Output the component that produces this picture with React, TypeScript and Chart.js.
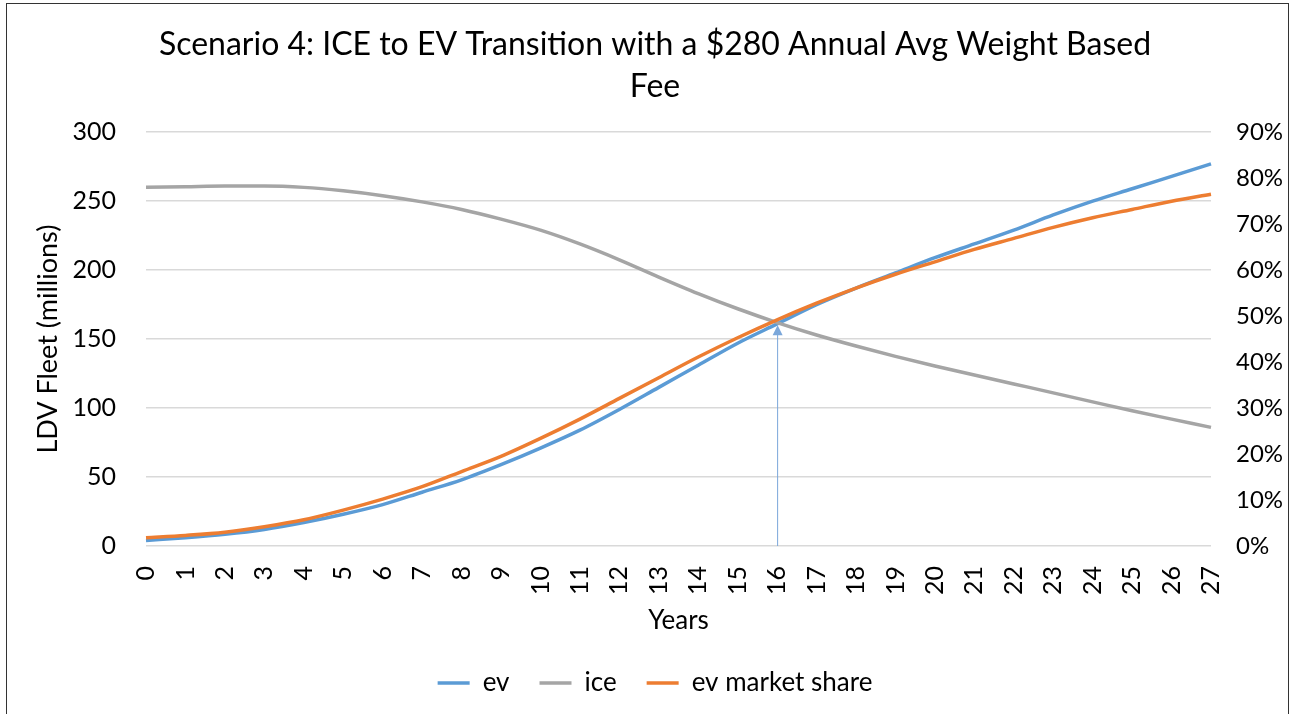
import React, { useEffect, useRef } from "react";
import { Chart, registerables } from "chart.js";

Chart.register(...registerables);

const years = ["0","1","2","3","4","5","6","7","8","9","10","11","12","13","14","15","16","17","18","19","20","21","22","23","24","25","26","27"];

const evFleet = [4, 6, 8.5, 12, 17, 23, 30, 39, 48, 59, 71, 84, 99, 115, 131, 147, 161, 175, 187, 198, 209, 219, 229, 240, 250, 259, 268, 277];

const iceFleet = [260, 260.5, 261, 261, 260, 257.5, 254, 249.5, 244, 237, 229, 219, 207.5, 195, 183, 172, 162, 153, 145, 137.5, 130.5, 124, 117.5, 111, 104.5, 98, 92, 86];

const evShare = [0.018, 0.023, 0.03, 0.042, 0.057, 0.078, 0.102, 0.129, 0.162, 0.195, 0.234, 0.276, 0.321, 0.366, 0.411, 0.453, 0.492, 0.528, 0.561, 0.591, 0.618, 0.645, 0.669, 0.693, 0.714, 0.732, 0.75, 0.765];

const arrowYear = "16";
const arrowTopValue = 160;

const titleLines = ["Scenario 4: ICE to EV Transition with a $280 Annual Avg Weight Based", "Fee"];

const BLUE = "#5B9BD5";
const GRAY = "#A5A5A5";
const ORANGE = "#ED7D31";
const FONT = "Lato, 'Open Sans', sans-serif";

const arrowPlugin = {
  id: "crossArrow",
  afterDatasetsDraw(chart: any) {
    const xs = chart.scales.x;
    const ys = chart.scales.y;
    const x = xs.getPixelForValue(years.indexOf(arrowYear));
    const y0 = ys.getPixelForValue(0);
    const y1 = ys.getPixelForValue(arrowTopValue);
    const ctx = chart.ctx;
    ctx.save();
    ctx.strokeStyle = "#7BA7DA";
    ctx.fillStyle = "#7BA7DA";
    ctx.lineWidth = 1;
    ctx.beginPath();
    ctx.moveTo(x + 0.5, y0);
    ctx.lineTo(x + 0.5, y1 + 8);
    ctx.stroke();
    ctx.beginPath();
    ctx.moveTo(x + 0.5, y1);
    ctx.lineTo(x - 4.5, y1 + 10);
    ctx.lineTo(x + 5.5, y1 + 10);
    ctx.closePath();
    ctx.fill();
    ctx.restore();
  },
};

export default function App() {
  const ref = useRef<HTMLCanvasElement | null>(null);

  useEffect(() => {
    if (!ref.current) return;
    Chart.defaults.font.family = FONT;
    Chart.defaults.color = "#000";
    const chart = new Chart(ref.current, {
      type: "line",
      data: {
        labels: years,
        datasets: [
          {
            label: "ev",
            data: evFleet,
            borderColor: BLUE,
            backgroundColor: BLUE,
            borderWidth: 3.5,
            pointRadius: 0,
            cubicInterpolationMode: "monotone",
            yAxisID: "y",
            order: 3,
          },
          {
            label: "ice",
            data: iceFleet,
            borderColor: GRAY,
            backgroundColor: GRAY,
            borderWidth: 3.5,
            pointRadius: 0,
            cubicInterpolationMode: "monotone",
            yAxisID: "y",
            order: 2,
          },
          {
            label: "ev market share",
            data: evShare,
            borderColor: ORANGE,
            backgroundColor: ORANGE,
            borderWidth: 3.5,
            pointRadius: 0,
            cubicInterpolationMode: "monotone",
            yAxisID: "y1",
            order: 1,
          },
        ],
      },
      options: {
        responsive: false,
        animation: false,
        devicePixelRatio: 1,
        layout: { padding: { left: 28, right: 10, top: 0, bottom: 8 } },
        plugins: {
          tooltip: { enabled: false },
          title: {
            display: true,
            text: titleLines,
            color: "#000",
            font: { family: FONT, size: 32, weight: "normal", lineHeight: 1.3 },
            padding: { top: 24, bottom: 25 },
          },
          legend: {
            position: "bottom",
            labels: {
              usePointStyle: true,
              pointStyle: "line",
              pointStyleWidth: 32,
              padding: 30,
              color: "#000",
              font: { family: FONT, size: 26 },
              sort: (a: any, b: any) => a.datasetIndex - b.datasetIndex,
            },
          },
        },
        scales: {
          x: {
            type: "category",
            offset: false,
            grid: { display: false, drawTicks: false },
            border: { display: false },
            ticks: {
              minRotation: 90,
              maxRotation: 90,
              padding: 20,
              autoSkip: false,
              color: "#000",
              font: { family: FONT, size: 25 },
            },
            title: {
              display: true,
              text: "Years",
              color: "#000",
              font: { family: FONT, size: 26 },
              padding: { top: 4, bottom: 4 },
            },
            afterFit: (s: any) => {
              s.height = 94;
            },
          },
          y: {
            position: "left",
            min: 0,
            max: 300,
            ticks: {
              stepSize: 50,
              padding: 30,
              color: "#000",
              font: { family: FONT, size: 25 },
            },
            grid: { color: "#D9D9D9", lineWidth: 1.5, drawTicks: false },
            border: { display: false },
            title: {
              display: true,
              text: "LDV Fleet (millions)",
              color: "#000",
              font: { family: FONT, size: 27 },
              padding: { top: 4, bottom: 4 },
            },
            afterFit: (s: any) => {
              s.width = 118;
            },
          },
          y1: {
            position: "right",
            min: 0,
            max: 0.9,
            ticks: {
              stepSize: 0.1,
              padding: 25,
              color: "#000",
              font: { family: FONT, size: 24 },
              callback: (v: any) => Math.round(Number(v) * 100) + "%",
            },
            grid: { display: false, drawTicks: false },
            border: { display: false },
            afterFit: (s: any) => {
              s.width = 71;
            },
          },
        },
      },
      plugins: [arrowPlugin],
    });
    return () => chart.destroy();
  }, []);

  return (
    <div style={{ position: "absolute", left: 0, top: 0, width: 1292, height: 714, overflow: "hidden", background: "#fff" }}>
      <div
        style={{
          position: "absolute",
          left: 6,
          top: 3,
          width: 1283,
          height: 730,
          border: "1.5px solid #333",
          boxSizing: "border-box",
        }}
      />
      <canvas ref={ref} width={1292} height={714} style={{ position: "absolute", left: 0, top: 0 }} />
    </div>
  );
}
